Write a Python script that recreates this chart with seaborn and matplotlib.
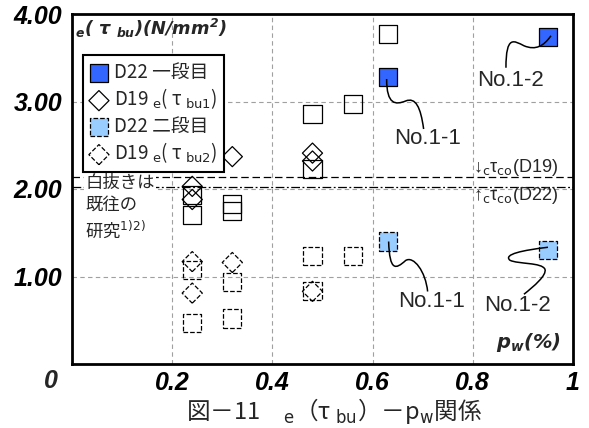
import numpy as np
import pandas as pd
import matplotlib
matplotlib.use("Agg")
import matplotlib.pyplot as plt
import seaborn as sns
from matplotlib.path import Path
from matplotlib.patches import PathPatch
import matplotlib.transforms as mtransforms
from matplotlib.font_manager import FontProperties

# ---------------- data ----------------
# this study (No.1-1, No.1-2)
pw_this = [0.63, 0.95]
tau1_this = [3.28, 3.74]          # D22 first layer
tau2_this = [1.40, 1.30]          # D22 second layer
# previous studies (open markers)
pw_prev_sq1 = [0.24, 0.24, 0.32, 0.32, 0.48, 0.48, 0.56, 0.63]
tau_prev_sq1 = [1.93, 1.70, 1.83, 1.75, 2.23, 2.86, 2.97, 3.77]
pw_prev_di1 = [0.24, 0.24, 0.32, 0.48, 0.48]
tau_prev_di1 = [2.03, 1.88, 2.37, 2.41, 2.32]
pw_prev_sq2 = [0.24, 0.24, 0.32, 0.32, 0.48, 0.48, 0.56]
tau_prev_sq2 = [1.07, 0.47, 0.94, 0.52, 1.23, 0.83, 1.23]
pw_prev_di2 = [0.24, 0.24, 0.32, 0.48]
tau_prev_di2 = [1.17, 0.81, 1.16, 0.83]
# reference lines
tau_co_D19 = 2.14
tau_co_D22 = 2.02

xticks = [0.2, 0.4, 0.6, 0.8, 1.0]
xticklabels = ["0.2", "0.4", "0.6", "0.8", "1"]
yticks = [1, 2, 3, 4]
yticklabels = ["1.00", "2.00", "3.00", "4.00"]
legend_labels = ["D22 一段目", r"D19 $_\mathrm{e}$( τ $_\mathrm{bu1}$)",
                 "D22 二段目", r"D19 $_\mathrm{e}$( τ $_\mathrm{bu2}$)"]
point_labels = ["No.1-1", "No.1-2"]

# ---------------- style ----------------
sns.set_theme(style="white")
plt.rcParams.update({
    "font.family": ["Liberation Sans", "Noto Sans CJK JP", "DejaVu Sans"],
    "mathtext.fontset": "custom",
    "mathtext.rm": "DejaVu Sans:bold:italic",
    "mathtext.it": "DejaVu Sans:bold:italic",
    "mathtext.bf": "DejaVu Sans:bold:italic",
    "mathtext.sf": "DejaVu Sans:bold:italic",
})

BLUE = "#3366ff"
LBLUE = "#99ccff"

fig = plt.figure(figsize=(5.89, 4.28), dpi=100)
ax = fig.add_axes([72 / 589, 1 - 364 / 428, 501 / 589, 350 / 428])
ax.set_axisbelow(True)

SQ = 169
DI = 105
LW = 0.9

sns.scatterplot(x=pw_prev_sq1, y=tau_prev_sq1, marker="s", s=SQ, facecolor="none",
                edgecolor="black", linewidth=LW, ax=ax, zorder=3)
sns.scatterplot(x=pw_prev_di1, y=tau_prev_di1, marker="D", s=DI, facecolor="none",
                edgecolor="black", linewidth=LW, ax=ax, zorder=3, label=legend_labels[1])
sns.scatterplot(x=pw_prev_sq2, y=tau_prev_sq2, marker="s", s=SQ, facecolor="none",
                edgecolor="black", linewidth=LW, linestyle="--", ax=ax, zorder=3)
sns.scatterplot(x=pw_prev_di2, y=tau_prev_di2, marker="D", s=DI, facecolor="none",
                edgecolor="black", linewidth=LW, linestyle="--", ax=ax, zorder=3,
                label=legend_labels[3])
sns.scatterplot(x=pw_this, y=tau1_this, marker="s", s=SQ, color=BLUE,
                edgecolor="black", linewidth=LW, ax=ax, zorder=4, label=legend_labels[0])
sns.scatterplot(x=pw_this, y=tau2_this, marker="s", s=SQ, color=LBLUE,
                edgecolor="black", linewidth=LW, linestyle="--", ax=ax, zorder=4,
                label=legend_labels[2])

# reference lines
ax.axhline(tau_co_D19, color="black", lw=0.9, ls=(0, (6, 3)), zorder=2)
ax.axhline(tau_co_D22, color="black", lw=0.9, ls=(0, (7, 2, 1.5, 2)), zorder=2)

# axes
ax.set_xlim(0, 1)
ax.set_ylim(0, 4)
ax.set_xlabel("")
ax.set_ylabel("")
tickfont = dict(family="Liberation Sans", weight="bold", style="italic", size=18)
ax.set_xticks(xticks)
ax.set_xticklabels(xticklabels, fontdict=tickfont)
ax.set_yticks(yticks)
ax.set_yticklabels(yticklabels, fontdict=tickfont)
ax.tick_params(axis="y", length=0, pad=7, colors="black")
ax.tick_params(axis="x", length=0, pad=5, colors="black")
ax.grid(True, color="#a0a0a0", linestyle=(0, (4, 3)), linewidth=0.8)
for sp in ax.spines.values():
    sp.set_color("black")
    sp.set_linewidth(2.0)
fig.text(51 / 589, 1 - 381 / 428, "0", ha="center", va="center", **{
    "family": "Liberation Sans", "weight": "bold", "style": "italic", "size": 18})

# axis titles inside
ax.text(0.006, 3.84, r"$_e$( τ $_{bu}$)(N/mm$^2$)", family="DejaVu Sans",
        weight="bold", style="italic", fontsize=12.8, ha="left", va="center",
        math_fontfamily="custom")
ax.text(0.976, 0.25, r"p$_w$(%)", family="DejaVu Sans", weight="bold",
        style="italic", fontsize=14, ha="right", va="center", math_fontfamily="custom")

# legend
h, l = ax.get_legend_handles_labels()
order = [l.index(lab) for lab in legend_labels]
legprop = FontProperties(family="Noto Sans CJK JP", size=13.5, math_fontfamily="dejavusans")
leg = ax.legend([h[i] for i in order], [l[i] for i in order], loc="upper left",
                bbox_to_anchor=((83 - 72) / 501, (364 - 55) / 350), borderaxespad=0,
                prop=legprop, scatterpoints=1, fancybox=False, framealpha=1,
                edgecolor="black", labelspacing=0.22, handlelength=1.0,
                handletextpad=0.3, borderpad=0.35)
leg.get_frame().set_linewidth(1.5)
leg.set_zorder(6)

# side notes
ax.text(0.026, 2.175, "白抜きは\n既往の\n研究$^\\mathrm{1)2)}$", family="Noto Sans CJK JP",
        fontsize=12.5, ha="left", va="top", linespacing=1.3, math_fontfamily="dejavusans",
        bbox=dict(fc="white", ec="none", pad=1), zorder=5)
ax.text(0.80, 2.24, "↓$_\\mathrm{c}$τ$_\\mathrm{co}$(D19)", family="Liberation Sans",
        fontsize=13, ha="left", va="center", math_fontfamily="dejavusans", zorder=5)
ax.text(0.80, 1.92, "↑$_\\mathrm{c}$τ$_\\mathrm{co}$(D22)", family="Liberation Sans",
        fontsize=13, ha="left", va="center", math_fontfamily="dejavusans", zorder=5)


# leader lines (offsets in pixels from the marker, y downwards)
def leader(x, y, pts):
    trans = fig.dpi_scale_trans + mtransforms.ScaledTranslation(x, y, ax.transData)
    verts = [(dx / 100, -dy / 100) for dx, dy in pts]
    codes = [Path.MOVETO] + [Path.CURVE4] * (len(pts) - 1)
    patch = PathPatch(Path(verts, codes), transform=trans, fc="none", ec="black",
                      lw=1.1, zorder=5, clip_on=False)
    ax.add_artist(patch)


leader(pw_this[0], tau1_this[0], [(-1, 2), (-1, 28), (8, 28), (18, 24), (28, 20), (33, 30), (36, 52)])
leader(pw_this[1], tau1_this[1], [(3, -1), (-4, 9), (-12, 14), (-24, 9), (-34, 4), (-42, -2), (-42, 31)])
leader(pw_this[0], tau2_this[0], [(1, 0), (2, 30), (8, 28), (18, 19), (26, 14), (38, 30), (40, 50)])
leader(pw_this[1], tau2_this[1], [(0, -3), (-25, 0), (-45, 4), (-38, 10), (-30, 14), (-6, 12),
                                  (-3, 19), (-1, 25), (-14, 36), (-24, 44)])

nofont = dict(family="Liberation Sans", fontsize=16, ha="left", va="center", zorder=5)
ax.text(0.642, 2.58, point_labels[0], **nofont)
ax.text(0.808, 3.24, point_labels[1], **nofont)
ax.text(0.650, 0.716, point_labels[0], **nofont)
ax.text(0.822, 0.67, point_labels[1], **nofont)

# caption
fig.text(0.567, 1 - 411 / 428, "図－11　$_\\mathrm{e}$（τ $_\\mathrm{bu}$）－p$_\\mathrm{w}$関係",
         family="Noto Sans CJK JP", fontsize=17, ha="center", va="center",
         math_fontfamily="dejavusans")

fig.savefig("out.png", dpi=100)
